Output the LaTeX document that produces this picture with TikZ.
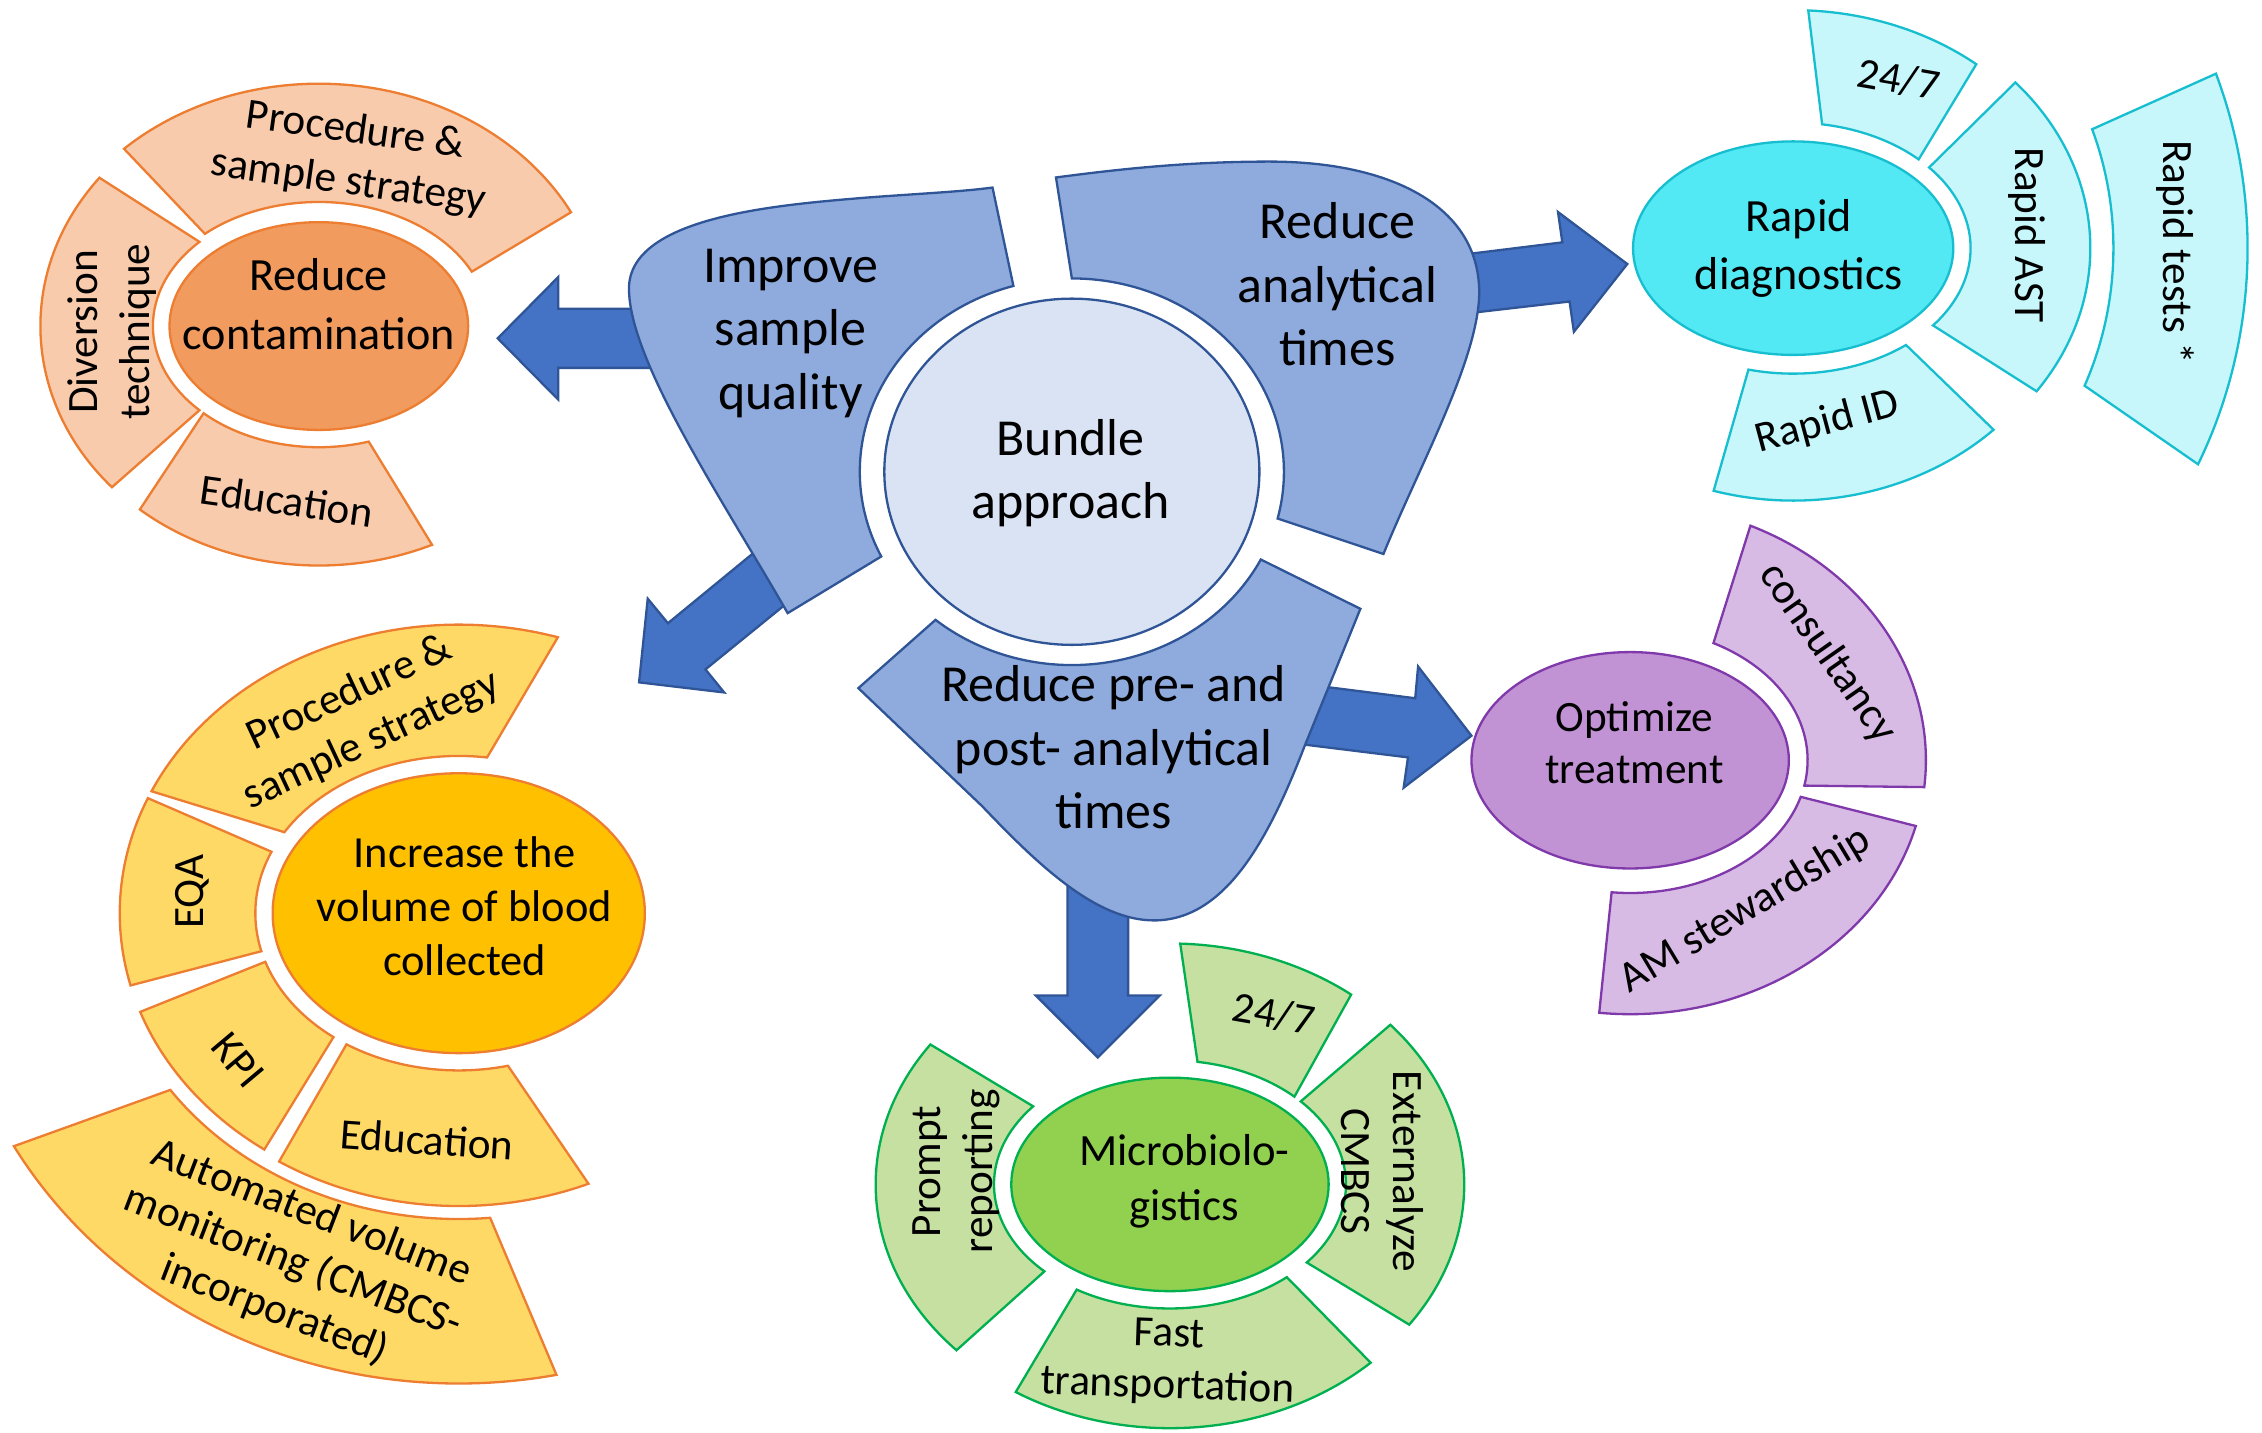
\documentclass[tikz,border=0pt]{standalone}
\usepackage{fontspec}
\setmainfont{Carlito}
\usetikzlibrary{shapes.geometric,calc}

\definecolor{blobfill}{RGB}{143,170,220}
\definecolor{blobline}{RGB}{47,85,151}
\definecolor{arrowfill}{RGB}{68,114,196}
\definecolor{hubfill}{RGB}{218,227,243}
\definecolor{orgline}{RGB}{237,125,49}
\definecolor{orgcore}{RGB}{241,155,95}
\definecolor{orgsat}{RGB}{248,203,173}
\definecolor{ylwcore}{RGB}{255,192,0}
\definecolor{ylwsat}{RGB}{255,217,102}
\definecolor{grnline}{RGB}{0,176,80}
\definecolor{grncore}{RGB}{146,208,80}
\definecolor{grnsat}{RGB}{197,224,160}
\definecolor{prpline}{RGB}{128,57,170}
\definecolor{prpcore}{RGB}{194,147,212}
\definecolor{prpsat}{RGB}{216,187,228}
\definecolor{cynline}{RGB}{23,190,207}
\definecolor{cyncore}{RGB}{82,232,244}
\definecolor{cynsat}{RGB}{199,247,250}

% ring segment: center, inner rx, inner ry, outer rx, outer ry, inner from/to, outer from/to
\newcommand\ringpart[9]{($(#1)+(#6:#2 and #3)$) arc[start angle=#6, end angle=#7, x radius=#2, y radius=#3] -- ($(#1)+(#9:#4 and #5)$) arc[start angle=#9, end angle=#8, x radius=#4, y radius=#5] -- cycle}

\begin{document}
\begin{tikzpicture}[x=0.5pt, y=0.5pt,
  blob/.style={fill=blobfill, draw=blobline, line width=0.8pt},
  bigarrow/.style={fill=arrowfill, draw=blobline, line width=0.8pt},
  core/.style={ellipse, draw, line width=0.8pt, inner sep=0pt},
  ringseg/.style={line width=0.8pt},
  txt/.style={align=center, inner sep=0pt, font=\fontsize{15}{18}\selectfont},
  bigtxt/.style={align=center, inner sep=0pt, font=\fontsize{18}{22}\selectfont}]
\useasboundingbox (0,0) rectangle (1568,-993);

\coordinate (hc) at (743,-327);

% block arrows
\draw[bigarrow] (470,-214) -- (387,-214) -- (387,-192) -- (345,-234.5) -- (387,-277) -- (387,-255) -- (470,-255) -- cycle;
\draw[bigarrow] (530,-377) -- (463,-432) -- (449,-415) -- (443,-473) -- (502,-480) -- (489,-464) -- (553,-412) -- cycle;
\draw[bigarrow] (1010,-177) -- (1083,-168) -- (1080,-147) -- (1128,-183) -- (1091,-230) -- (1088,-209) -- (1010,-218) -- cycle;
\draw[bigarrow] (910,-475) -- (981,-484) -- (983,-462) -- (1020,-510) -- (973,-546) -- (976,-525) -- (895,-515) -- cycle;
\draw[bigarrow] (740,-600) -- (740,-690) -- (718,-690) -- (761,-733) -- (804,-690) -- (782,-690) -- (782,-600) -- cycle;

% the three blobs round the bundle
\draw[blob] (688,-130) -- ($(hc)+(106:147 and 134)$) arc[start angle=106, end angle=206, x radius=147, y radius=134]
  -- (546,-425) .. controls (500,-345) and (436,-250) .. (436,-200)
  .. controls (436,-150) and (540,-142) .. (600,-137) .. controls (640,-134) and (665,-133) .. (688,-130) -- cycle;
\draw[blob] (732,-123) -- ($(hc)+(90:147 and 134)$) arc[start angle=90, end angle=-14, x radius=147, y radius=134]
  -- (959,-384) .. controls (985,-320) and (1030,-240) .. (1025,-195)
  .. controls (1020,-140) and (960,-112) .. (880,-112) .. controls (820,-112) and (770,-118) .. (732,-123) -- cycle;
\draw[blob] (595,-477) -- ($(hc)+(-130:147 and 134)$) arc[start angle=-130, end angle=-27, x radius=147, y radius=134]
  -- (943,-422) -- (904,-518) .. controls (880,-580) and (850,-638) .. (800,-638)
  .. controls (760,-638) and (720,-600) .. (681,-559) -- cycle;

\node[core, fill=hubfill, draw=blobline, minimum width=130pt, minimum height=120pt] (hub) at (hc) {};

% contamination
\node[core, fill=orgcore, draw=orgline, minimum width=103.5pt, minimum height=72pt] (contam) at (221,-226) {};
\draw[ringseg, fill=orgsat, draw=orgline] \ringpart{contam.center}{118}{86}{198}{168}{26}{132}{28}{133};
\draw[ringseg, fill=orgsat, draw=orgline] \ringpart{contam.center}{115}{84}{193}{167}{136}{224}{142}{222};
\draw[ringseg, fill=orgsat, draw=orgline] \ringpart{contam.center}{115}{84}{193}{166}{226}{287.5}{230}{294};

% blood volume
\node[core, fill=ylwcore, draw=orgline, minimum width=129pt, minimum height=97pt] (volume) at (318,-633) {};
\draw[ringseg, fill=ylwsat, draw=orgline] \ringpart{volume.center}{141}{109}{235}{200}{82}{149}{73}{155};
\draw[ringseg, fill=ylwsat, draw=orgline] \ringpart{volume.center}{141}{109}{235}{200}{157}{194}{156.5}{194.5};
\draw[ringseg, fill=ylwsat, draw=orgline] \ringpart{volume.center}{141}{109}{235}{200}{198}{232}{200}{235};
\draw[ringseg, fill=ylwsat, draw=orgline] \ringpart{volume.center}{141}{109}{235}{203}{236.5}{284}{238}{292.5};
\draw[ringseg, fill=ylwsat, draw=orgline] \ringpart{volume.center}{245}{212}{355}{326}{215.3}{275.1}{209.7}{281};

% microbiologistics
\node[core, fill=grncore, draw=grnline, minimum width=110pt, minimum height=74pt] (microlog) at (811,-821) {};
\draw[ringseg, fill=grnsat, draw=grnline] \ringpart{microlog.center}{122}{86}{204}{167}{45}{81}{52}{88};
\draw[ringseg, fill=grnsat, draw=grnline] \ringpart{microlog.center}{122}{86}{204}{167}{-39}{42}{-35.6}{41.5};
\draw[ringseg, fill=grnsat, draw=grnline] \ringpart{microlog.center}{122}{86}{204}{169}{-122}{-48.4}{-121.6}{-47};
\draw[ringseg, fill=grnsat, draw=grnline] \ringpart{microlog.center}{122}{86}{204}{167}{141}{224.5}{144.5}{223.5};

% treatment
\node[core, fill=prpcore, draw=prpline, minimum width=110pt, minimum height=75pt] (treat) at (1130,-527) {};
\draw[ringseg, fill=prpsat, draw=prpline] \ringpart{treat.center}{123}{92}{205}{178}{-11}{62}{-6}{66};
\draw[ringseg, fill=prpsat, draw=prpline] \ringpart{treat.center}{123}{92}{205}{176}{-96}{-16}{-96}{-15};

% rapid diagnostics
\node[core, fill=cyncore, draw=cynline, minimum width=111pt, minimum height=74pt] (rapid) at (1243,-172) {};
\draw[ringseg, fill=cynsat, draw=cynline] \ringpart{rapid.center}{123}{87}{200}{165}{45}{80.6}{50.6}{87};
\draw[ringseg, fill=cynsat, draw=cynline] \ringpart{rapid.center}{123}{87}{206}{173}{-38}{40}{-35}{41.6};
\draw[ringseg, fill=cynsat, draw=cynline] \ringpart{rapid.center}{222}{230}{315}{330}{-24.5}{21}{-27}{21.5};
\draw[ringseg, fill=cynsat, draw=cynline] \ringpart{rapid.center}{123}{87}{200}{175}{-104.6}{-50.5}{-106}{-46};

% texts
\node[bigtxt] (hubtxt) at (742,-328) {Bundle\\approach};
\node[bigtxt] (qualtxt) at (548,-231) {Improve\\sample\\quality};
\node[bigtxt] (analtxt) at (927,-197) {Reduce\\analytical\\times};
\node[bigtxt] (preposttxt) at (772,-518) {Reduce pre- and\\post- analytical\\times};

\node[txt, font=\fontsize{16}{20.5}\selectfont] (contamtxt) at (221,-211) {Reduce\\contamination};
\node[txt, rotate=-8] (orgproc) at (244,-109) {Procedure \&\\sample strategy};
\node[txt, rotate=90] (orgdiv) at (78,-230) {Diversion\\technique};
\node[txt, rotate=-8] (orgedu) at (199,-347) {Education};

\node[txt, font=\fontsize{15.4}{18.8}\selectfont] (volumetxt) at (322,-628) {Increase the\\volume of blood\\collected};
\node[txt, rotate=25] (ylwproc) at (250,-497) {Procedure \&\\sample strategy};
\node[txt, rotate=90] (ylweqa) at (133,-618) {EQA};
\node[txt, rotate=-50] (ylwkpi) at (165,-735) {KPI};
\node[txt, rotate=-4] (ylwedu) at (296,-790) {Education};
\node[txt, rotate=-21] (ylwauto) at (203,-875) {Automated volume\\monitoring (CMBCS-\\incorporated)};

\node[txt, font=\fontsize{15.5}{19}\selectfont] (microtxt) at (821,-819) {Microbiolo-\\gistics};
\node[txt, rotate=-10] (grn247) at (883,-703) {24/7};
\node[txt, rotate=-90] (grnext) at (958,-812) {Externalyze\\CMBCS};
\node[txt, rotate=90] (grnprompt) at (663,-812) {Prompt\\reporting};
\node[txt, rotate=-2] (grnfast) at (810,-944) {Fast\\transportation};

\node[txt] (treattxt) at (1133,-515) {Optimize\\treatment};
\node[txt, rotate=-55] (prpcons) at (1267,-453) {consultancy};
\node[txt, rotate=31] (prpam) at (1210,-631) {AM stewardship};

\node[txt, font=\fontsize{16}{20}\selectfont] (rapidtxt) at (1247,-172) {Rapid\\diagnostics};
\node[txt, rotate=-10] (cyn247) at (1316,-55) {24/7};
\node[txt, rotate=-90] (cynast) at (1405,-163) {Rapid AST};
\node[txt, rotate=-90] (cyntests) at (1508,-175) {Rapid tests *};
\node[txt, rotate=15] (cynid) at (1267,-293) {Rapid ID};
\end{tikzpicture}
\end{document}
